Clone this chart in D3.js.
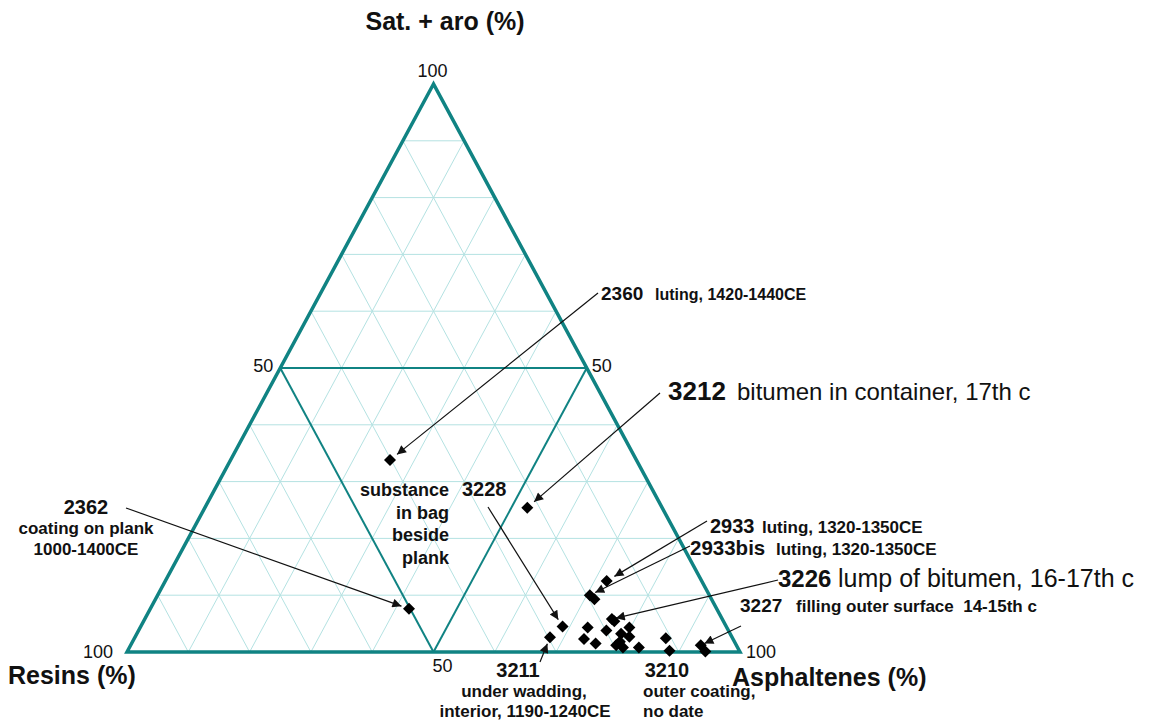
<!DOCTYPE html>
<html><head><meta charset="utf-8">
<script src="https://cdn.jsdelivr.net/npm/d3@7"></script>
<style>
body{margin:0;background:#fff}
svg{display:block}
text{font-family:"Liberation Sans",Arial,Helvetica,sans-serif;fill:#111}
</style>
</head><body>
<svg id="chart" width="1157" height="723"></svg>
<script>
// ---- data (percent: saturates+aromatics, resins, asphaltenes) ----
const satAro      = [33.8, 25.4,  7.6, 12.5, 10.0,  9.3,  4.5,  2.6,  4.3,  2.3,  1.5,  3.8,  5.8,  5.4,  3.2,  4.3,  2.7,  1.2,  0.8,  1.8,  0.8,  2.4,  0.2,  1.2,  0.1];
const resins      = [40.2, 22.0, 50.2, 15.5, 19.5, 19.1, 26.7, 29.7, 22.7, 24.3, 22.8, 19.9, 18.0, 17.8, 17.8, 15.9, 16.7, 19.6, 18.7, 18.7, 16.1, 10.9, 11.4,  5.8,  5.6];
const asphaltenes = [26.0, 52.6, 42.2, 72.0, 70.5, 71.6, 68.8, 67.7, 73.0, 73.4, 75.7, 76.3, 76.2, 76.8, 79.0, 79.8, 80.6, 79.2, 80.5, 79.5, 83.1, 86.7, 88.4, 93.0, 94.3];
const gridTicks = [10, 20, 30, 40, 60, 70, 80, 90];
const halfTick = 50;
const axisTitles = ["Sat. + aro (%)", "Resins (%)", "Asphaltenes (%)"];
const cornerLabels = ["100", "100", "100"];
const midLabels = ["50", "50", "50"];

// annotations: target point index
const annoTargets = [0, 1, 2, 6, 3, 4, 12, 23, 7];

const svg = d3.select("#chart");
const teal = "#108383";
const gridCol = "#b4e2e2";

const x = d3.scaleLinear().domain([0, 100]).range([127, 740]);
const y = d3.scaleLinear().domain([0, 100]).range([652, 84]);
const P = (s, r, a) => [x(a + s / 2), y(s)];

// grid
const gridG = svg.append("g").attr("stroke", gridCol).attr("stroke-width", 1).attr("fill", "none");
function tline(g, p1, p2) {
  g.append("line").attr("x1", p1[0]).attr("y1", p1[1]).attr("x2", p2[0]).attr("y2", p2[1]);
}
gridTicks.forEach(t => {
  tline(gridG, P(t, 100 - t, 0), P(t, 0, 100 - t));
  tline(gridG, P(100 - t, 0, t), P(0, 100 - t, t));
  tline(gridG, P(100 - t, t, 0), P(0, t, 100 - t));
});
// medial lines
const midG = svg.append("g").attr("stroke", teal).attr("stroke-width", 2).attr("fill", "none");
const t = halfTick;
tline(midG, P(t, 100 - t, 0), P(t, 0, 100 - t));
tline(midG, P(100 - t, 0, t), P(0, 100 - t, t));
tline(midG, P(100 - t, t, 0), P(0, t, 100 - t));

// outline
const corners = [P(100, 0, 0), P(0, 100, 0), P(0, 0, 100)];
svg.append("polygon").attr("points", corners.map(c => c.join(",")).join(" "))
  .attr("fill", "none").attr("stroke", teal).attr("stroke-width", 3.5).attr("stroke-linejoin", "miter");

// tick labels
const tickFont = 18;
function txt(s, xx, yy, opts = {}) {
  const e = svg.append("text").attr("x", xx).attr("y", yy).text(s)
    .attr("font-size", opts.size || 16)
    .attr("font-weight", opts.bold ? "bold" : "normal")
    .attr("text-anchor", opts.anchor || "start");
  return e;
}
txt(cornerLabels[0], corners[0][0] - 1, corners[0][1] - 7, {size: tickFont, anchor: "middle"});
txt(cornerLabels[1], corners[1][0] - 14, corners[1][1] + 6, {size: tickFont, anchor: "end"});
txt(cornerLabels[2], corners[2][0] + 6, corners[2][1] + 6, {size: tickFont});
const mL = P(50, 50, 0), mR = P(50, 0, 50), mB = P(0, 50, 50);
txt(midLabels[0], mL[0] - 7, mL[1] + 4, {size: tickFont, anchor: "end"});
txt(midLabels[1], mR[0] + 5, mR[1] + 4, {size: tickFont});
txt(midLabels[2], mB[0] - 1, mB[1] + 20, {size: tickFont});

// axis titles
txt(axisTitles[0], 445, 30, {size: 25, bold: true, anchor: "middle"});
txt(axisTitles[1], 8, 684, {size: 25, bold: true});
txt(axisTitles[2], 732, 686, {size: 25, bold: true});

// arrow marker
svg.append("defs").append("marker").attr("id", "ah")
  .attr("viewBox", "0 0 10 10").attr("refX", 10).attr("refY", 5)
  .attr("markerWidth", 11).attr("markerHeight", 9).attr("markerUnits", "userSpaceOnUse")
  .attr("orient", "auto")
  .append("path").attr("d", "M0,0 L10,5 L0,10 Z").attr("fill", "#111");

// arrow start positions (layout)
const arrowStarts = [[598, 293], [660, 393], [126, 508], [488, 507], [707, 521], [690, 546], [778, 580], [741, 626], [540, 662]];
const arrowGap = [9, 9, 8, 8, 9, 6, 4, 4, 7];
const arrowG = svg.append("g").attr("stroke", "#111").attr("stroke-width", 1.2);
annoTargets.forEach((pi, i) => {
  const p = P(satAro[pi], resins[pi], asphaltenes[pi]);
  const s = arrowStarts[i];
  const dx = s[0] - p[0], dy = s[1] - p[1];
  const L = Math.hypot(dx, dy);
  const e = [p[0] + dx / L * arrowGap[i], p[1] + dy / L * arrowGap[i]];
  arrowG.append("line").attr("x1", s[0]).attr("y1", s[1]).attr("x2", e[0]).attr("y2", e[1])
    .attr("marker-end", "url(#ah)");
});

// points
const r = 6;
svg.append("g").selectAll("path").data(satAro.map((s, i) => [s, resins[i], asphaltenes[i]]))
  .join("path")
  .attr("transform", d => { const p = P(d[0], d[1], d[2]); return `translate(${p[0]},${p[1]})`; })
  .attr("d", `M0,${-r}L${r},0L0,${r}L${-r},0Z`)
  .attr("fill", "#000");

// annotation texts
txt("2360", 601, 300, {size: 19, bold: true});
txt("luting, 1420-1440CE", 655, 300, {size: 16, bold: true});
txt("3212", 668, 400, {size: 26, bold: true});
txt("bitumen in container, 17th c", 737, 400, {size: 24});
txt("2362", 86, 514, {size: 20, bold: true, anchor: "middle"});
txt("coating on plank", 86, 534, {size: 17, bold: true, anchor: "middle"});
txt("1000-1400CE", 86, 555, {size: 17, bold: true, anchor: "middle"});
["substance", "in bag", "beside", "plank"].forEach((s, i) =>
  txt(s, 449, 496 + i * 22.7, {size: 18, bold: true, anchor: "end"}));
txt("3228", 462, 496, {size: 20, bold: true});
txt("2933", 710, 533, {size: 20, bold: true});
txt("luting, 1320-1350CE", 762, 533, {size: 17, bold: true});
txt("2933bis", 690, 555, {size: 20.5, bold: true});
txt("luting, 1320-1350CE", 776, 555, {size: 17, bold: true});
txt("3226", 778, 587, {size: 24, bold: true});
txt("lump of bitumen, 16-17th c", 838, 587, {size: 25});
txt("3227", 740, 612, {size: 19, bold: true});
txt("filling outer surface  14-15th c", 796, 612, {size: 17, bold: true}).style("white-space", "pre");
txt("3211", 518, 677, {size: 20, bold: true, anchor: "middle"});
txt("under wadding,", 524, 697, {size: 17, bold: true, anchor: "middle"});
txt("interior, 1190-1240CE", 525, 717, {size: 17, bold: true, anchor: "middle"});
txt("3210", 667, 677, {size: 20, bold: true, anchor: "middle"});
txt("outer coating,", 643, 697, {size: 17, bold: true});
txt("no date", 643, 717, {size: 17, bold: true});
</script>
</body></html>
